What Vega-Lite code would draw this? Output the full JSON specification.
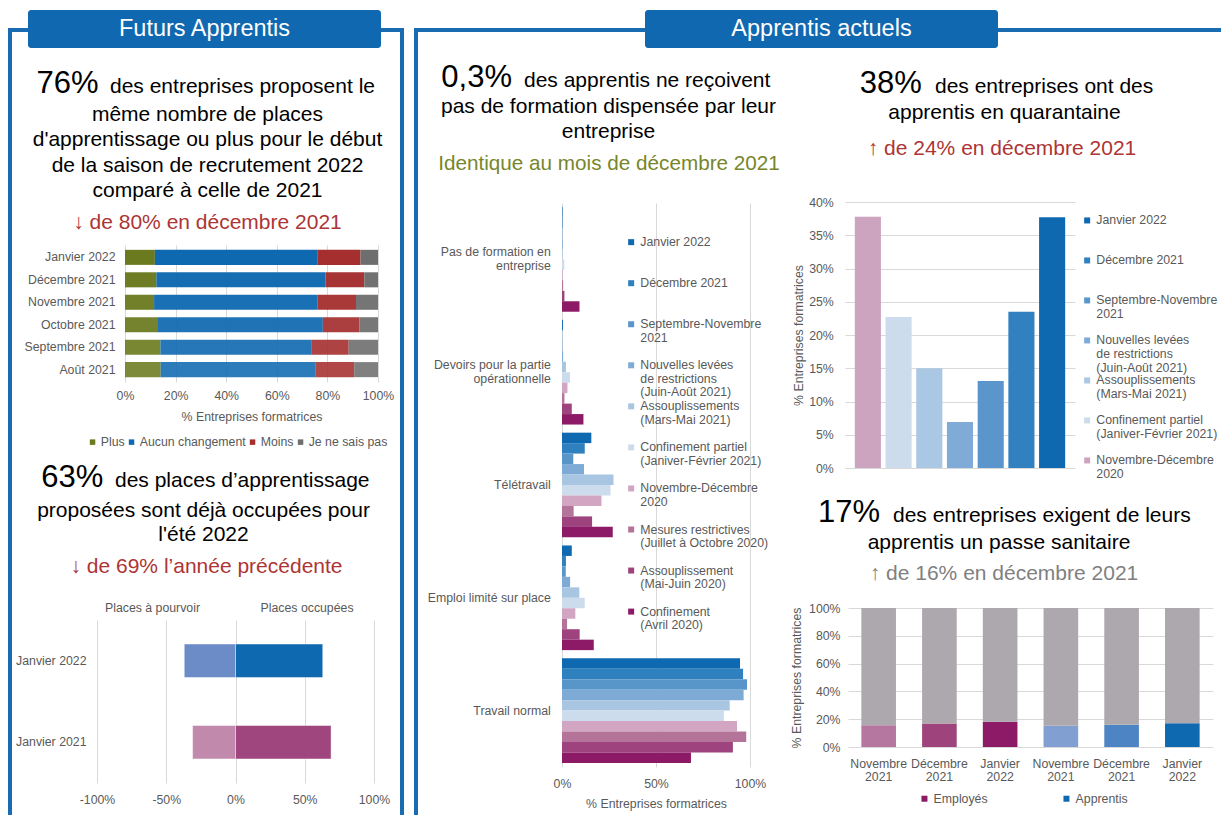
{
  "$schema": "https://vega.github.io/schema/vega-lite/v6.json",
  "background": "white",
  "padding": 0,
  "spacing": 0,
  "resolve": {"scale": {"color": "independent", "opacity": "independent"}},
  "vconcat": [
    {"width": 1, "height": 10, "data": {"values": []}, "mark": {"type": "text"}, "encoding": {}},
    {
      "spacing": 0,
      "hconcat": [
        {"width": 8, "height": 38, "data": {"values": []}, "mark": {"type": "text"}, "encoding": {}},
        {"spacing": 0, "vconcat": [
          {"width": 4, "height": 18, "data": {"values": []}, "mark": {"type": "text"}, "encoding": {}},
          {"width": 4, "height": 20, "data": {"values": []}, "mark": {"type": "text"}, "encoding": {}, "view": {"fill": "#1a6cb2", "stroke": null}}
        ]},
        {"spacing": 0, "vconcat": [
          {"width": 16, "height": 18, "data": {"values": []}, "mark": {"type": "text"}, "encoding": {}},
          {"width": 16, "height": 4, "data": {"values": []}, "mark": {"type": "text"}, "encoding": {}, "view": {"fill": "#1a6cb2", "stroke": null}}
        ]},
        {"width": 353, "height": 38, "data": {"values": [{"titre": "Futurs Apprentis"}]}, "mark": {"type": "text", "color": "white", "fontSize": 23.5, "baseline": "middle"}, "encoding": {"text": {"field": "titre"}}, "view": {"fill": "#1068b0", "stroke": null, "cornerRadius": 3}},
        {"spacing": 0, "vconcat": [
          {"width": 19, "height": 18, "data": {"values": []}, "mark": {"type": "text"}, "encoding": {}},
          {"width": 19, "height": 4, "data": {"values": []}, "mark": {"type": "text"}, "encoding": {}, "view": {"fill": "#1a6cb2", "stroke": null}}
        ]},
        {"spacing": 0, "vconcat": [
          {"width": 4, "height": 18, "data": {"values": []}, "mark": {"type": "text"}, "encoding": {}},
          {"width": 4, "height": 20, "data": {"values": []}, "mark": {"type": "text"}, "encoding": {}, "view": {"fill": "#1a6cb2", "stroke": null}}
        ]},
        {"width": 10, "height": 38, "data": {"values": []}, "mark": {"type": "text"}, "encoding": {}},
        {"spacing": 0, "vconcat": [
          {"width": 4, "height": 18, "data": {"values": []}, "mark": {"type": "text"}, "encoding": {}},
          {"width": 4, "height": 20, "data": {"values": []}, "mark": {"type": "text"}, "encoding": {}, "view": {"fill": "#1a6cb2", "stroke": null}}
        ]},
        {"spacing": 0, "vconcat": [
          {"width": 227, "height": 18, "data": {"values": []}, "mark": {"type": "text"}, "encoding": {}},
          {"width": 227, "height": 4, "data": {"values": []}, "mark": {"type": "text"}, "encoding": {}, "view": {"fill": "#1a6cb2", "stroke": null}}
        ]},
        {"width": 353, "height": 38, "data": {"values": [{"titre": "Apprentis actuels"}]}, "mark": {"type": "text", "color": "white", "fontSize": 23.5, "baseline": "middle"}, "encoding": {"text": {"field": "titre"}}, "view": {"fill": "#1068b0", "stroke": null, "cornerRadius": 3}},
        {"spacing": 0, "vconcat": [
          {"width": 223, "height": 18, "data": {"values": []}, "mark": {"type": "text"}, "encoding": {}},
          {"width": 223, "height": 4, "data": {"values": []}, "mark": {"type": "text"}, "encoding": {}, "view": {"fill": "#1a6cb2", "stroke": null}}
        ]}
      ]
    },
    {
      "spacing": 0,
      "resolve": {"scale": {"color": "independent", "opacity": "independent"}},
      "hconcat": [
        {"width": 8, "height": 767, "data": {"values": []}, "mark": {"type": "text"}, "encoding": {}},
        {"width": 4, "height": 767, "data": {"values": []}, "mark": {"type": "text"}, "encoding": {}, "view": {"fill": "#1a6cb2", "stroke": null}},
        {
          "spacing": 0,
          "resolve": {"scale": {"color": "independent", "opacity": "independent"}},
          "vconcat": [
            {
              "width": 388, "height": 197,
              "layer": [
                {"data": {"values": [{"texte": "76%"}]}, "mark": {"type": "text", "fontSize": 31, "align": "right", "baseline": "alphabetic", "dx": -107.5, "dy": -53.5, "color": "#000000"}, "encoding": {"text": {"field": "texte"}}},
                {"data": {"values": [{"texte": "des entreprises proposent le"}]}, "mark": {"type": "text", "fontSize": 21, "align": "left", "baseline": "alphabetic", "dx": -96, "dy": -53.5, "color": "#000000"}, "encoding": {"text": {"field": "texte"}}},
                {"data": {"values": [{"texte": "même nombre de places\nd'apprentissage ou plus pour le début\nde la saison de recrutement 2022\ncomparé à celle de 2021"}]}, "mark": {"type": "text", "fontSize": 21, "align": "center", "baseline": "alphabetic", "lineBreak": "\n", "lineHeight": 25.4, "dx": 1.5, "dy": -25.5, "color": "#000000"}, "encoding": {"text": {"field": "texte"}}},
                {"data": {"values": [{"texte": "↓ de 80% en décembre 2021"}]}, "mark": {"type": "text", "fontSize": 21, "align": "center", "baseline": "alphabetic", "dx": 1.5, "dy": 82.8, "color": "#ad3535"}, "encoding": {"text": {"field": "texte"}}}
              ]
            },
            {
              "bounds": "flush",
              "spacing": 0,
              "resolve": {"scale": {"color": "independent", "opacity": "independent"}},
              "hconcat": [
                {"width": 113, "height": 210, "data": {"values": []}, "mark": {"type": "text"}, "encoding": {}},
                {
                  "width": 253, "height": 137,
                  "data": {"values": [
                    {"mois": "Janvier 2022", "reponse": "Plus", "rang": 1, "part": 11.8},
                    {"mois": "Janvier 2022", "reponse": "Aucun changement", "rang": 2, "part": 64.4},
                    {"mois": "Janvier 2022", "reponse": "Moins", "rang": 3, "part": 16.9},
                    {"mois": "Janvier 2022", "reponse": "Je ne sais pas", "rang": 4, "part": 6.9},
                    {"mois": "Décembre 2021", "reponse": "Plus", "rang": 1, "part": 12.4},
                    {"mois": "Décembre 2021", "reponse": "Aucun changement", "rang": 2, "part": 66.9},
                    {"mois": "Décembre 2021", "reponse": "Moins", "rang": 3, "part": 15.3},
                    {"mois": "Décembre 2021", "reponse": "Je ne sais pas", "rang": 4, "part": 5.4},
                    {"mois": "Novembre 2021", "reponse": "Plus", "rang": 1, "part": 11.5},
                    {"mois": "Novembre 2021", "reponse": "Aucun changement", "rang": 2, "part": 64.5},
                    {"mois": "Novembre 2021", "reponse": "Moins", "rang": 3, "part": 15.3},
                    {"mois": "Novembre 2021", "reponse": "Je ne sais pas", "rang": 4, "part": 8.7},
                    {"mois": "Octobre 2021", "reponse": "Plus", "rang": 1, "part": 12.7},
                    {"mois": "Octobre 2021", "reponse": "Aucun changement", "rang": 2, "part": 65.5},
                    {"mois": "Octobre 2021", "reponse": "Moins", "rang": 3, "part": 14.5},
                    {"mois": "Octobre 2021", "reponse": "Je ne sais pas", "rang": 4, "part": 7.3},
                    {"mois": "Septembre 2021", "reponse": "Plus", "rang": 1, "part": 14.0},
                    {"mois": "Septembre 2021", "reponse": "Aucun changement", "rang": 2, "part": 59.6},
                    {"mois": "Septembre 2021", "reponse": "Moins", "rang": 3, "part": 14.8},
                    {"mois": "Septembre 2021", "reponse": "Je ne sais pas", "rang": 4, "part": 11.6},
                    {"mois": "Août 2021", "reponse": "Plus", "rang": 1, "part": 14.1},
                    {"mois": "Août 2021", "reponse": "Aucun changement", "rang": 2, "part": 61.3},
                    {"mois": "Août 2021", "reponse": "Moins", "rang": 3, "part": 15.2},
                    {"mois": "Août 2021", "reponse": "Je ne sais pas", "rang": 4, "part": 9.4}
                  ]},
                  "mark": {"type": "bar"},
                  "encoding": {
                    "y": {"field": "mois", "type": "nominal", "sort": ["Janvier 2022", "Décembre 2021", "Novembre 2021", "Octobre 2021", "Septembre 2021", "Août 2021"], "scale": {"paddingInner": 0.33, "paddingOuter": 0.215}, "axis": {"title": null, "labelPadding": 10}},
                    "x": {"field": "part", "type": "quantitative", "stack": "zero", "scale": {"domain": [0, 100]}, "axis": {"values": [0, 20, 40, 60, 80, 100], "labelExpr": "datum.value + '%'", "title": "% Entreprises formatrices", "grid": true, "labelPadding": 7.7, "titlePadding": 8.5}},
                    "color": {"field": "reponse", "type": "nominal", "scale": {"domain": ["Plus", "Aucun changement", "Moins", "Je ne sais pas"], "range": ["#6b7a1e", "#0f69b0", "#a52f2f", "#6e6e6e"]}, "legend": {"orient": "none", "legendX": -38.6, "legendY": 190.7, "direction": "horizontal", "title": null, "columnPadding": 0, "symbolSize": 30, "labelOffset": 2}},
                    "opacity": {"field": "mois", "type": "nominal", "scale": {"domain": ["Janvier 2022", "Décembre 2021", "Novembre 2021", "Octobre 2021", "Septembre 2021", "Août 2021"], "range": [1, 0.88, 0.78, 0.68, 0.55, 0.45]}, "legend": null},
                    "order": {"field": "rang", "type": "quantitative"}
                  }
                },
                {"width": 22, "height": 210, "data": {"values": []}, "mark": {"type": "text"}, "encoding": {}}
              ]
            },
            {
              "width": 388, "height": 146,
              "layer": [
                {"data": {"values": [{"texte": "63%"}]}, "mark": {"type": "text", "fontSize": 31, "align": "right", "baseline": "alphabetic", "dx": -102.7, "dy": -41.3, "color": "#000000"}, "encoding": {"text": {"field": "texte"}}},
                {"data": {"values": [{"texte": "des places d’apprentissage"}]}, "mark": {"type": "text", "fontSize": 21, "align": "left", "baseline": "alphabetic", "dx": -91, "dy": -41.3, "color": "#000000"}, "encoding": {"text": {"field": "texte"}}},
                {"data": {"values": [{"texte": "proposées sont déjà occupées pour\nl'été 2022"}]}, "mark": {"type": "text", "fontSize": 21, "align": "center", "baseline": "alphabetic", "lineBreak": "\n", "lineHeight": 24.5, "dx": -2.5, "dy": -11.3, "color": "#000000"}, "encoding": {"text": {"field": "texte"}}},
                {"data": {"values": [{"texte": "↓ de 69% l’année précédente"}]}, "mark": {"type": "text", "fontSize": 21, "align": "center", "baseline": "alphabetic", "dx": 0.5, "dy": 44.7, "color": "#ad3535"}, "encoding": {"text": {"field": "texte"}}}
              ]
            },
            {
              "bounds": "flush",
              "spacing": 0,
              "resolve": {"scale": {"color": "independent", "opacity": "independent"}},
              "hconcat": [
                {"width": 85, "height": 193, "data": {"values": []}, "mark": {"type": "text"}, "encoding": {}},
                {
                  "width": 277, "height": 163,
                  "data": {"values": [
                    {"annee": "Janvier 2022", "type": "Places à pourvoir", "valeur": -37},
                    {"annee": "Janvier 2022", "type": "Places occupées", "valeur": 63},
                    {"annee": "Janvier 2021", "type": "Places à pourvoir", "valeur": -31},
                    {"annee": "Janvier 2021", "type": "Places occupées", "valeur": 69}
                  ]},
                  "encoding": {
                    "y": {"field": "annee", "type": "nominal", "sort": ["Janvier 2022", "Janvier 2021"], "scale": {"paddingInner": 0.589, "paddingOuter": 0.295}, "axis": {"title": null, "labelPadding": 11}}
                  },
                  "layer": [
                    {
                      "transform": [{"filter": "datum.type === 'Places à pourvoir'"}],
                      "mark": {"type": "bar", "stroke": "white", "strokeWidth": 1, "strokeOpacity": 0.45},
                      "encoding": {
                        "x": {"field": "valeur", "type": "quantitative", "scale": {"domain": [-100, 100]}, "axis": {"orient": "bottom", "values": [-100, -50, 0, 50, 100], "labelExpr": "datum.value + '%'", "title": null, "grid": true, "labelPadding": 10}},
                        "color": {"field": "annee", "type": "nominal", "scale": {"domain": ["Janvier 2022", "Janvier 2021"], "range": ["#6b8cc7", "#c18aad"]}, "legend": null}
                      }
                    },
                    {
                      "transform": [{"filter": "datum.type === 'Places occupées'"}],
                      "mark": {"type": "bar", "stroke": "white", "strokeWidth": 1, "strokeOpacity": 0.45},
                      "encoding": {
                        "x": {"field": "valeur", "type": "quantitative", "scale": {"domain": [-100, 100]}, "axis": {"orient": "top", "values": [-60.3, 51.3], "labelExpr": "datum.value < 0 ? 'Places à pourvoir' : 'Places occupées'", "title": null, "grid": false, "labelPadding": 6}},
                        "color": {"field": "annee", "type": "nominal", "scale": {"domain": ["Janvier 2022", "Janvier 2021"], "range": ["#0f69b0", "#9e467d"]}, "legend": null}
                      }
                    }
                  ],
                  "resolve": {"scale": {"color": "independent"}, "axis": {"x": "independent"}}
                },
                {"width": 26, "height": 193, "data": {"values": []}, "mark": {"type": "text"}, "encoding": {}}
              ]
            }
          ]
        },
        {"width": 4, "height": 767, "data": {"values": []}, "mark": {"type": "text"}, "encoding": {}, "view": {"fill": "#1a6cb2", "stroke": null}},
        {"width": 10, "height": 767, "data": {"values": []}, "mark": {"type": "text"}, "encoding": {}},
        {"width": 4, "height": 767, "data": {"values": []}, "mark": {"type": "text"}, "encoding": {}, "view": {"fill": "#1a6cb2", "stroke": null}},
        {
          "spacing": 0,
          "resolve": {"scale": {"color": "independent", "opacity": "independent"}},
          "vconcat": [
            {
              "width": 362, "height": 155,
              "layer": [
                {"data": {"values": [{"texte": "0,3%"}]}, "mark": {"type": "text", "fontSize": 31, "align": "right", "baseline": "alphabetic", "dx": -87, "dy": -39, "color": "#000000"}, "encoding": {"text": {"field": "texte"}}},
                {"data": {"values": [{"texte": "des apprentis ne reçoivent"}]}, "mark": {"type": "text", "fontSize": 21, "align": "left", "baseline": "alphabetic", "dx": -75, "dy": -39, "color": "#000000"}, "encoding": {"text": {"field": "texte"}}},
                {"data": {"values": [{"texte": "pas de formation dispensée par leur\nentreprise"}]}, "mark": {"type": "text", "fontSize": 21, "align": "center", "baseline": "alphabetic", "lineBreak": "\n", "lineHeight": 24.4, "dx": 9.5, "dy": -12.2, "color": "#000000"}, "encoding": {"text": {"field": "texte"}}},
                {"data": {"values": [{"texte": "Identique au mois de décembre 2021"}]}, "mark": {"type": "text", "fontSize": 20.7, "align": "center", "baseline": "alphabetic", "dx": 10, "dy": 44.5, "color": "#77862a"}, "encoding": {"text": {"field": "texte"}}}
              ]
            },
            {
              "bounds": "flush",
              "spacing": 0,
              "resolve": {"scale": {"color": "independent", "opacity": "independent"}},
              "hconcat": [
                {"width": 144, "height": 610, "data": {"values": []}, "mark": {"type": "text"}, "encoding": {}},
                {
                  "width": 188, "height": 564,
                  "data": {"values": [
                    {"situation": "Pas de formation en entreprise", "periode": "Janvier 2022", "part": 0.3},
                    {"situation": "Pas de formation en entreprise", "periode": "Décembre 2021", "part": 0.3},
                    {"situation": "Pas de formation en entreprise", "periode": "Septembre-Novembre 2021", "part": 0.2},
                    {"situation": "Pas de formation en entreprise", "periode": "Nouvelles levées de restrictions (Juin-Août 2021)", "part": 0.4},
                    {"situation": "Pas de formation en entreprise", "periode": "Assouplissements (Mars-Mai 2021)", "part": 0.3},
                    {"situation": "Pas de formation en entreprise", "periode": "Confinement partiel (Janiver-Février 2021)", "part": 1.2},
                    {"situation": "Pas de formation en entreprise", "periode": "Novembre-Décembre 2020", "part": 0.4},
                    {"situation": "Pas de formation en entreprise", "periode": "Mesures restrictives (Juillet à Octobre 2020)", "part": 0.6},
                    {"situation": "Pas de formation en entreprise", "periode": "Assouplissement (Mai-Juin 2020)", "part": 1.3},
                    {"situation": "Pas de formation en entreprise", "periode": "Confinement (Avril 2020)", "part": 9.3},
                    {"situation": "Devoirs pour la partie opérationnelle", "periode": "Janvier 2022", "part": 0.5},
                    {"situation": "Devoirs pour la partie opérationnelle", "periode": "Décembre 2021", "part": 0.1},
                    {"situation": "Devoirs pour la partie opérationnelle", "periode": "Septembre-Novembre 2021", "part": 0.2},
                    {"situation": "Devoirs pour la partie opérationnelle", "periode": "Nouvelles levées de restrictions (Juin-Août 2021)", "part": 0.6},
                    {"situation": "Devoirs pour la partie opérationnelle", "periode": "Assouplissements (Mars-Mai 2021)", "part": 2.1},
                    {"situation": "Devoirs pour la partie opérationnelle", "periode": "Confinement partiel (Janiver-Février 2021)", "part": 4.3},
                    {"situation": "Devoirs pour la partie opérationnelle", "periode": "Novembre-Décembre 2020", "part": 2.9},
                    {"situation": "Devoirs pour la partie opérationnelle", "periode": "Mesures restrictives (Juillet à Octobre 2020)", "part": 1.3},
                    {"situation": "Devoirs pour la partie opérationnelle", "periode": "Assouplissement (Mai-Juin 2020)", "part": 5.2},
                    {"situation": "Devoirs pour la partie opérationnelle", "periode": "Confinement (Avril 2020)", "part": 11.4},
                    {"situation": "Télétravail", "periode": "Janvier 2022", "part": 15.6},
                    {"situation": "Télétravail", "periode": "Décembre 2021", "part": 12.1},
                    {"situation": "Télétravail", "periode": "Septembre-Novembre 2021", "part": 6.0},
                    {"situation": "Télétravail", "periode": "Nouvelles levées de restrictions (Juin-Août 2021)", "part": 11.7},
                    {"situation": "Télétravail", "periode": "Assouplissements (Mars-Mai 2021)", "part": 27.4},
                    {"situation": "Télétravail", "periode": "Confinement partiel (Janiver-Février 2021)", "part": 25.8},
                    {"situation": "Télétravail", "periode": "Novembre-Décembre 2020", "part": 21.0},
                    {"situation": "Télétravail", "periode": "Mesures restrictives (Juillet à Octobre 2020)", "part": 6.2},
                    {"situation": "Télétravail", "periode": "Assouplissement (Mai-Juin 2020)", "part": 16.0},
                    {"situation": "Télétravail", "periode": "Confinement (Avril 2020)", "part": 27.0},
                    {"situation": "Emploi limité sur place", "periode": "Janvier 2022", "part": 5.2},
                    {"situation": "Emploi limité sur place", "periode": "Décembre 2021", "part": 2.1},
                    {"situation": "Emploi limité sur place", "periode": "Septembre-Novembre 2021", "part": 2.0},
                    {"situation": "Emploi limité sur place", "periode": "Nouvelles levées de restrictions (Juin-Août 2021)", "part": 4.3},
                    {"situation": "Emploi limité sur place", "periode": "Assouplissements (Mars-Mai 2021)", "part": 9.2},
                    {"situation": "Emploi limité sur place", "periode": "Confinement partiel (Janiver-Février 2021)", "part": 12.1},
                    {"situation": "Emploi limité sur place", "periode": "Novembre-Décembre 2020", "part": 7.1},
                    {"situation": "Emploi limité sur place", "periode": "Mesures restrictives (Juillet à Octobre 2020)", "part": 2.7},
                    {"situation": "Emploi limité sur place", "periode": "Assouplissement (Mai-Juin 2020)", "part": 9.4},
                    {"situation": "Emploi limité sur place", "periode": "Confinement (Avril 2020)", "part": 16.9},
                    {"situation": "Travail normal", "periode": "Janvier 2022", "part": 94.7},
                    {"situation": "Travail normal", "periode": "Décembre 2021", "part": 96.3},
                    {"situation": "Travail normal", "periode": "Septembre-Novembre 2021", "part": 98.4},
                    {"situation": "Travail normal", "periode": "Nouvelles levées de restrictions (Juin-Août 2021)", "part": 96.6},
                    {"situation": "Travail normal", "periode": "Assouplissements (Mars-Mai 2021)", "part": 89.2},
                    {"situation": "Travail normal", "periode": "Confinement partiel (Janiver-Février 2021)", "part": 86.1},
                    {"situation": "Travail normal", "periode": "Novembre-Décembre 2020", "part": 93.1},
                    {"situation": "Travail normal", "periode": "Mesures restrictives (Juillet à Octobre 2020)", "part": 98.0},
                    {"situation": "Travail normal", "periode": "Assouplissement (Mai-Juin 2020)", "part": 90.9},
                    {"situation": "Travail normal", "periode": "Confinement (Avril 2020)", "part": 68.6}
                  ]},
                  "mark": {"type": "bar"},
                  "encoding": {
                    "y": {"field": "situation", "type": "nominal", "sort": ["Pas de formation en entreprise", "Devoirs pour la partie opérationnelle", "Télétravail", "Emploi limité sur place", "Travail normal"], "scale": {"paddingInner": 0.072, "paddingOuter": 0.036}, "axis": {"title": null, "labelPadding": 11.7, "labelExpr": "datum.label == 'Pas de formation en entreprise' ? ['Pas de formation en', 'entreprise\u00a0\u00a0\u00a0\u00a0\u00a0\u00a0\u00a0\u00a0'] : datum.label == 'Devoirs pour la partie opérationnelle' ? ['Devoirs pour la partie', 'opérationnelle\u00a0\u00a0\u00a0\u00a0\u00a0\u00a0'] : datum.label", "labelBaseline": {"condition": {"test": "datum.value == 'Pas de formation en entreprise' || datum.value == 'Devoirs pour la partie opérationnelle'", "value": "line-bottom"}, "value": "middle"}}},
                    "yOffset": {"field": "periode", "type": "nominal", "sort": ["Janvier 2022", "Décembre 2021", "Septembre-Novembre 2021", "Nouvelles levées de restrictions (Juin-Août 2021)", "Assouplissements (Mars-Mai 2021)", "Confinement partiel (Janiver-Février 2021)", "Novembre-Décembre 2020", "Mesures restrictives (Juillet à Octobre 2020)", "Assouplissement (Mai-Juin 2020)", "Confinement (Avril 2020)"]},
                    "x": {"field": "part", "type": "quantitative", "scale": {"domain": [0, 100]}, "axis": {"values": [0, 50, 100], "labelExpr": "datum.value + '%'", "title": "% Entreprises formatrices", "grid": true, "labelPadding": 10, "titlePadding": 7.7}},
                    "color": {"field": "periode", "type": "nominal", "scale": {"domain": ["Janvier 2022", "Décembre 2021", "Septembre-Novembre 2021", "Nouvelles levées de restrictions (Juin-Août 2021)", "Assouplissements (Mars-Mai 2021)", "Confinement partiel (Janiver-Février 2021)", "Novembre-Décembre 2020", "Mesures restrictives (Juillet à Octobre 2020)", "Assouplissement (Mai-Juin 2020)", "Confinement (Avril 2020)"], "range": ["#0f69b0", "#2f80bf", "#5896ca", "#7eaad6", "#a8c6e2", "#cddcec", "#d2a6c2", "#b47399", "#9f437e", "#8c1a67"]}, "legend": {"orient": "none", "legendX": 63, "legendY": 33, "direction": "vertical", "title": null, "gridAlign": "all", "rowPadding": 1.05, "symbolSize": 36, "labelOffset": 3, "labelLimit": 160, "labelExpr": "datum.label == 'Septembre-Novembre 2021' ? ['Septembre-Novembre', '2021'] : datum.label == 'Nouvelles levées de restrictions (Juin-Août 2021)' ? ['Nouvelles levées', 'de restrictions', '(Juin-Août 2021)'] : datum.label == 'Assouplissements (Mars-Mai 2021)' ? ['Assouplissements', '(Mars-Mai 2021)'] : datum.label == 'Confinement partiel (Janiver-Février 2021)' ? ['Confinement  partiel', '(Janiver-Février 2021)'] : datum.label == 'Novembre-Décembre 2020' ? ['Novembre-Décembre', '2020'] : datum.label == 'Mesures restrictives (Juillet à Octobre 2020)' ? ['Mesures restrictives', '(Juillet à Octobre 2020)'] : datum.label == 'Assouplissement (Mai-Juin 2020)' ? ['Assouplissement', ' (Mai-Juin 2020)'] : datum.label == 'Confinement (Avril 2020)' ? ['Confinement', '(Avril 2020)'] : datum.label"}}
                  }
                },
                {"width": 30, "height": 610, "data": {"values": []}, "mark": {"type": "text"}, "encoding": {}}
              ]
            }
          ]
        },
        {
          "spacing": 0,
          "resolve": {"scale": {"color": "independent", "opacity": "independent"}},
          "vconcat": [
            {
              "width": 441, "height": 148,
              "layer": [
                {"data": {"values": [{"texte": "38%"}]}, "mark": {"type": "text", "fontSize": 31, "align": "right", "baseline": "alphabetic", "dx": -78.8, "dy": -29.2, "color": "#000000"}, "encoding": {"text": {"field": "texte"}}},
                {"data": {"values": [{"texte": "des entreprises ont des"}]}, "mark": {"type": "text", "fontSize": 21, "align": "left", "baseline": "alphabetic", "dx": -65.5, "dy": -29.2, "color": "#000000"}, "encoding": {"text": {"field": "texte"}}},
                {"data": {"values": [{"texte": "apprentis en quarantaine"}]}, "mark": {"type": "text", "fontSize": 21, "align": "center", "baseline": "alphabetic", "dx": 4, "dy": -3, "color": "#000000"}, "encoding": {"text": {"field": "texte"}}},
                {"data": {"values": [{"texte": "↑ de 24% en décembre 2021"}]}, "mark": {"type": "text", "fontSize": 21, "align": "center", "baseline": "alphabetic", "dx": 1.5, "dy": 33, "color": "#ad3535"}, "encoding": {"text": {"field": "texte"}}}
              ]
            },
            {
              "bounds": "flush",
              "spacing": 0,
              "resolve": {"scale": {"color": "independent", "opacity": "independent"}},
              "hconcat": [
                {"width": 65, "height": 283, "data": {"values": []}, "mark": {"type": "text"}, "encoding": {}},
                {
                  "width": 230, "height": 266,
                  "data": {"values": [
                    {"periode": "Novembre-Décembre 2020", "part": 0.378},
                    {"periode": "Confinement partiel (Janiver-Février 2021)", "part": 0.227},
                    {"periode": "Assouplissements (Mars-Mai 2021)", "part": 0.150},
                    {"periode": "Nouvelles levées de restrictions (Juin-Août 2021)", "part": 0.069},
                    {"periode": "Septembre-Novembre 2021", "part": 0.131},
                    {"periode": "Décembre 2021", "part": 0.235},
                    {"periode": "Janvier 2022", "part": 0.377}
                  ]},
                  "mark": {"type": "bar"},
                  "encoding": {
                    "x": {"field": "periode", "type": "nominal", "sort": ["Novembre-Décembre 2020", "Confinement partiel (Janiver-Février 2021)", "Assouplissements (Mars-Mai 2021)", "Nouvelles levées de restrictions (Juin-Août 2021)", "Septembre-Novembre 2021", "Décembre 2021", "Janvier 2022"], "scale": {"paddingInner": 0.15, "paddingOuter": 0.32}, "axis": null},
                    "y": {"field": "part", "type": "quantitative", "scale": {"domain": [0, 0.4]}, "axis": {"values": [0, 0.05, 0.1, 0.15, 0.2, 0.25, 0.3, 0.35, 0.4], "format": ".0%", "title": "% Entreprises formatrices", "grid": true, "labelPadding": 11.7, "titlePadding": 3}},
                    "color": {"field": "periode", "type": "nominal", "scale": {"domain": ["Janvier 2022", "Décembre 2021", "Septembre-Novembre 2021", "Nouvelles levées de restrictions (Juin-Août 2021)", "Assouplissements (Mars-Mai 2021)", "Confinement partiel (Janiver-Février 2021)", "Novembre-Décembre 2020"], "range": ["#0f69b0", "#3181c0", "#5a96cb", "#7fabd6", "#aac7e3", "#ccdcec", "#cda4c0"]}, "legend": {"orient": "none", "legendX": 236, "legendY": 12.3, "direction": "vertical", "title": null, "gridAlign": "all", "rowPadding": 0, "symbolSize": 36, "labelOffset": 3, "labelLimit": 126, "labelExpr": "datum.label == 'Septembre-Novembre 2021' ? ['Septembre-Novembre', '2021'] : datum.label == 'Nouvelles levées de restrictions (Juin-Août 2021)' ? ['Nouvelles levées', 'de restrictions', '(Juin-Août 2021)'] : datum.label == 'Assouplissements (Mars-Mai 2021)' ? ['Assouplissements', '(Mars-Mai 2021)'] : datum.label == 'Confinement partiel (Janiver-Février 2021)' ? ['Confinement  partiel', '(Janiver-Février 2021)'] : datum.label == 'Novembre-Décembre 2020' ? ['Novembre-Décembre', '2020'] : datum.label"}}
                  }
                },
                {"width": 146, "height": 283, "data": {"values": []}, "mark": {"type": "text"}, "encoding": {}}
              ]
            },
            {
              "width": 441, "height": 117,
              "layer": [
                {"data": {"values": [{"texte": "17%"}]}, "mark": {"type": "text", "fontSize": 31, "align": "right", "baseline": "alphabetic", "dx": -120.5, "dy": -21.8, "color": "#000000"}, "encoding": {"text": {"field": "texte"}}},
                {"data": {"values": [{"texte": "des entreprises exigent de leurs"}]}, "mark": {"type": "text", "fontSize": 21, "align": "left", "baseline": "alphabetic", "dx": -107.5, "dy": -21.8, "color": "#000000"}, "encoding": {"text": {"field": "texte"}}},
                {"data": {"values": [{"texte": "apprentis un passe sanitaire"}]}, "mark": {"type": "text", "fontSize": 21, "align": "center", "baseline": "alphabetic", "dx": -1.5, "dy": 5.5, "color": "#000000"}, "encoding": {"text": {"field": "texte"}}},
                {"data": {"values": [{"texte": "↑ de 16% en décembre 2021"}]}, "mark": {"type": "text", "fontSize": 21, "align": "center", "baseline": "alphabetic", "dx": 3.5, "dy": 36.5, "color": "#808080"}, "encoding": {"text": {"field": "texte"}}}
              ]
            },
            {
              "bounds": "flush",
              "spacing": 0,
              "resolve": {"scale": {"color": "independent", "opacity": "independent"}},
              "hconcat": [
                {"width": 68, "height": 205, "data": {"values": []}, "mark": {"type": "text"}, "encoding": {}},
                {
                  "width": 365, "height": 139,
                  "data": {"values": [
                    {"barre": "Employés Novembre 2021", "reponse": "Oui", "part": 0.157},
                    {"barre": "Employés Novembre 2021", "reponse": "Non", "part": 0.843},
                    {"barre": "Employés Décembre 2021", "reponse": "Oui", "part": 0.169},
                    {"barre": "Employés Décembre 2021", "reponse": "Non", "part": 0.831},
                    {"barre": "Employés Janvier 2022", "reponse": "Oui", "part": 0.181},
                    {"barre": "Employés Janvier 2022", "reponse": "Non", "part": 0.819},
                    {"barre": "Apprentis Novembre 2021", "reponse": "Oui", "part": 0.152},
                    {"barre": "Apprentis Novembre 2021", "reponse": "Non", "part": 0.848},
                    {"barre": "Apprentis Décembre 2021", "reponse": "Oui", "part": 0.16},
                    {"barre": "Apprentis Décembre 2021", "reponse": "Non", "part": 0.84},
                    {"barre": "Apprentis Janvier 2022", "reponse": "Oui", "part": 0.17},
                    {"barre": "Apprentis Janvier 2022", "reponse": "Non", "part": 0.83}
                  ]},
                  "mark": {"type": "bar"},
                  "encoding": {
                    "x": {"field": "barre", "type": "nominal", "sort": ["Employés Novembre 2021", "Employés Décembre 2021", "Employés Janvier 2022", "Apprentis Novembre 2021", "Apprentis Décembre 2021", "Apprentis Janvier 2022"], "scale": {"paddingInner": 0.43, "paddingOuter": 0.22}, "axis": {"title": null, "labelAngle": 0, "labelPadding": 10, "labelExpr": "split(replace(replace(datum.label, 'Employés ', ''), 'Apprentis ', ''), ' ')"}},
                    "y": {"field": "part", "type": "quantitative", "stack": "zero", "scale": {"domain": [0, 1]}, "axis": {"values": [0, 0.2, 0.4, 0.6, 0.8, 1], "format": ".0%", "title": "% Entreprises formatrices", "grid": true, "labelPadding": 8, "titlePadding": 4.6}},
                    "color": {"condition": {"test": "datum.reponse === 'Non'", "value": "#ada8ad"}, "field": "barre", "type": "nominal", "scale": {"domain": ["Employés Novembre 2021", "Employés Décembre 2021", "Employés Janvier 2022", "Apprentis Novembre 2021", "Apprentis Décembre 2021", "Apprentis Janvier 2022"], "range": ["#b5779f", "#9e437c", "#8d1a66", "#819fd0", "#4d85c4", "#0f69b0"]}, "legend": {"values": ["Employés Janvier 2022", "Apprentis Janvier 2022"], "labelExpr": "split(datum.label, ' ')[0]", "orient": "none", "legendX": 70.3, "legendY": 184.3, "direction": "horizontal", "title": null, "columnPadding": 72, "symbolSize": 36, "labelOffset": 3}},
                    "order": {"field": "reponse", "type": "nominal", "sort": "descending"}
                  }
                },
                {"width": 8, "height": 205, "data": {"values": []}, "mark": {"type": "text"}, "encoding": {}}
              ]
            }
          ]
        }
      ]
    }
  ],
  "config": {
    "font": "Liberation Sans",
    "view": {"stroke": null},
    "text": {"font": "Liberation Sans"},
    "style": {"guide-label": {"lineHeight": 13.6}},
    "axis": {"labelFont": "Liberation Sans", "labelFontSize": 12.3, "labelColor": "#595959", "titleFont": "Liberation Sans", "titleFontSize": 12.3, "titleColor": "#595959", "titleFontWeight": "normal", "gridColor": "#d9d9d9", "gridWidth": 1, "domain": false, "ticks": false, "tickSize": 0, "labelFlush": false, "labelOverlap": false},
    "legend": {"labelFont": "Liberation Sans", "labelFontSize": 12.3, "labelColor": "#595959", "symbolType": "square", "symbolStrokeWidth": 0}
  }
}
